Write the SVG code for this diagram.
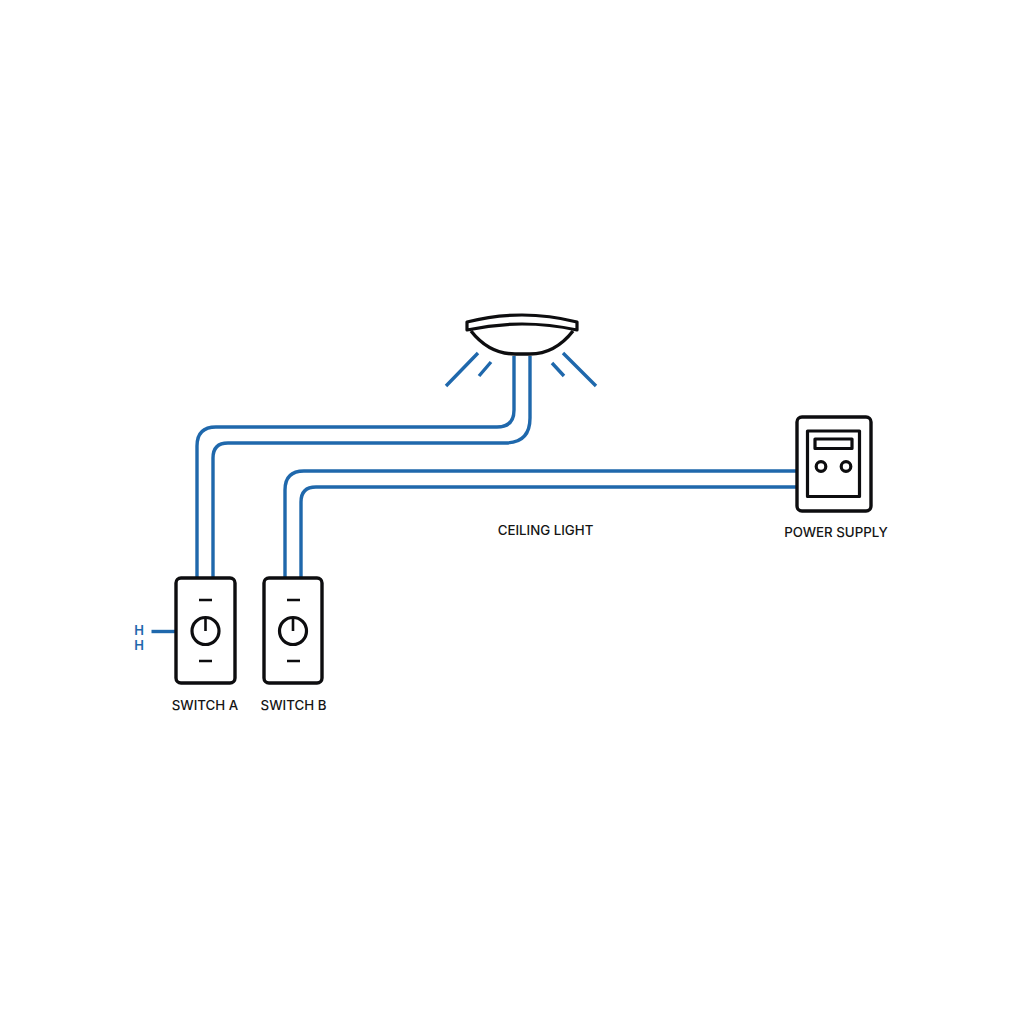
<svg xmlns="http://www.w3.org/2000/svg" width="1024" height="1024" viewBox="0 0 1024 1024">
<style>
.k{fill:none;stroke:#0d0d0f;stroke-width:3.2;stroke-linejoin:round}
.b{fill:#fff;stroke:#0d0d0f;stroke-width:3.4}
.w{fill:none;stroke:#1f68ac;stroke-width:3.4}
.t{font-family:"Inter","Roboto",sans-serif;font-size:13.3px;font-weight:500;fill:#151515;text-anchor:middle}
.m{font-family:"Inter","Roboto",sans-serif;font-size:13px;font-weight:600;fill:#1f68ac;text-anchor:middle}
.tk{fill:none;stroke:#0d0d0f;stroke-width:2.6}
</style>
<rect width="1024" height="1024" fill="#fff"/>
<g id="connectors">
<path class="w" d="M197 578V446Q197 427 216 427H497Q514 427 514 410V356"/>
<path class="w" d="M213 578V458Q213 443 228 443H505Q530 443 530 418V356"/>
<path class="w" d="M285 578V490Q285 471 304 471H797"/>
<path class="w" d="M301 578V502Q301 487 316 487H797"/>
<path class="w" d="M151.500 631.500H175"/>
</g>
<g id="ceiling-light">
<path d="M471 331C482 345 497 354 515 354H530C548 354 562 345 573 331" fill="#fff" stroke="#0d0d0f" stroke-width="3.400"/>
<path d="M467 322Q522 308 577 322V330Q522 318 467 330Z" fill="#fff" stroke="#0d0d0f" stroke-width="3.200" stroke-linejoin="round"/>
<path class="w" d="M478 353L446 386M491 362L479 376M563 353L596 386M552 363L564 376"/>
</g>
<g id="switch-a">
<rect class="b" x="176" y="578" width="59" height="105" rx="5"/>
<path class="tk" d="M199 600H212M199 661H212M205.500 618V631"/>
<circle class="k" cx="205.500" cy="631" r="13.500"/>
<text class="t" x="205" y="710">SWITCH A</text>
</g>
<g id="switch-b">
<rect class="b" x="264" y="578" width="58" height="105" rx="5"/>
<path class="tk" d="M287 600H300M287 661H300M293 618V631"/>
<circle class="k" cx="293" cy="631" r="13.500"/>
<text class="t" x="293.500" y="710">SWITCH B</text>
</g>
<g id="switch-a-side-marks">
<text class="m" x="139" y="635">H</text>
<text class="m" x="139" y="650">H</text>
</g>
<g id="power-supply">
<rect class="b" x="797" y="417" width="74" height="94" rx="5"/>
<rect class="k" x="807.500" y="431" width="52" height="65.500"/>
<rect class="k" x="815" y="439" width="37" height="9.500"/>
<circle class="k" cx="821" cy="466.500" r="4.800"/>
<circle class="k" cx="846" cy="466.500" r="4.800"/>
<text class="t" x="836" y="537">POWER SUPPLY</text>
</g>
<g id="label-ceiling-light">
<text class="t" x="545.500" y="535">CEILING LIGHT</text>
</g>
</svg>
